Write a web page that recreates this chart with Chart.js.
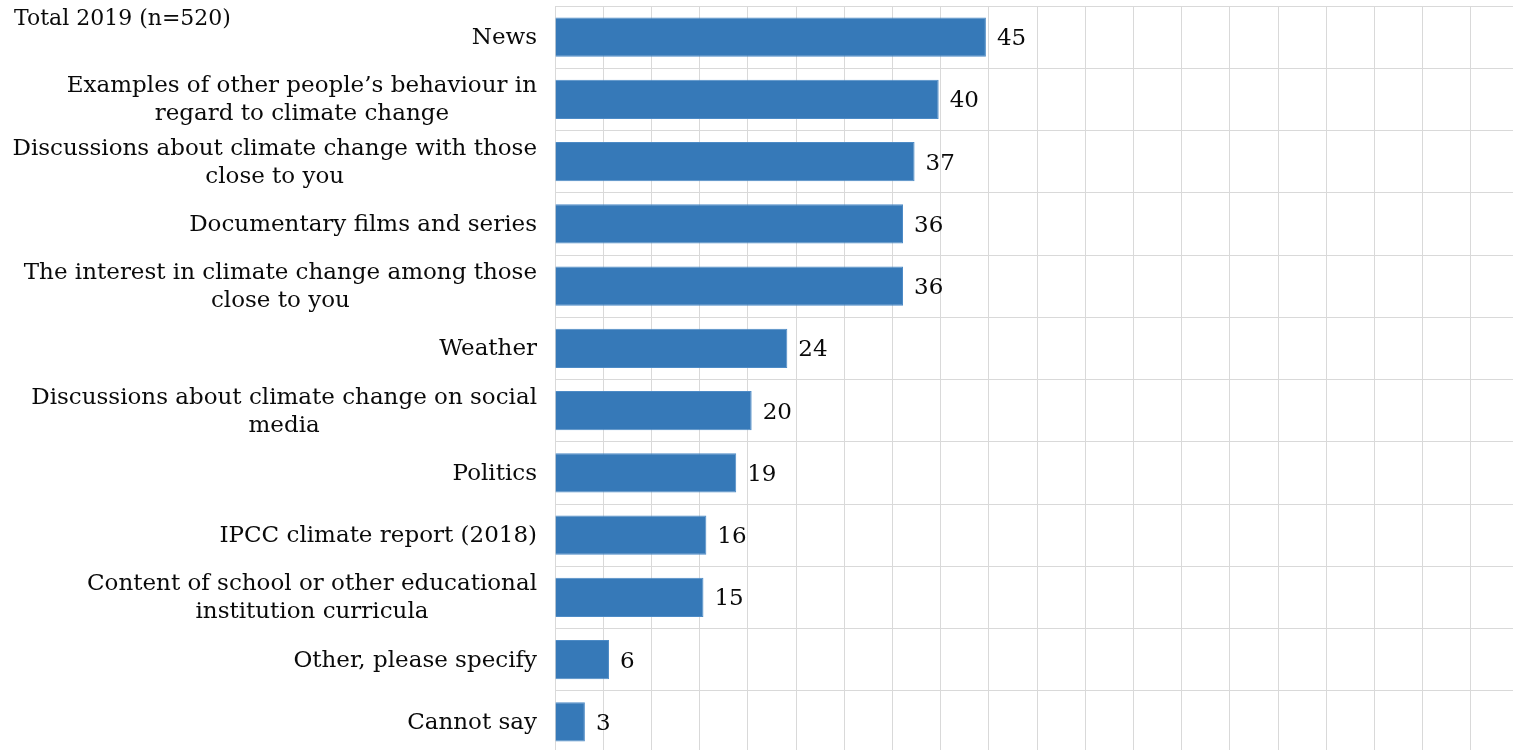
<!DOCTYPE html>
<html>
<head>
<meta charset="utf-8">
<script src="https://cdn.jsdelivr.net/npm/chart.js@4/dist/chart.umd.min.js"></script>
<style>
  html, body { margin: 0; padding: 0; background: #fff; overflow: hidden; }
  #wrap { position: absolute; left: 0; top: 0; width: 1520px; height: 753px; }
</style>
</head>
<body>
<div id="wrap"><canvas id="c" width="1520" height="753"></canvas></div>
<script>
const chartTitle = "Total 2019 (n=520)";
const categories = [
  ["News"],
  ["Examples of other people\u2019s behaviour in", "regard to climate change"],
  ["Discussions about climate change with those", "close to you"],
  ["Documentary films and series"],
  ["The interest in climate change among those", "close to you"],
  ["Weather"],
  ["Discussions about climate change on social", "media"],
  ["Politics"],
  ["IPCC climate report (2018)"],
  ["Content of school or other educational", "institution curricula"],
  ["Other, please specify"],
  ["Cannot say"]
];
const values = [44.7, 39.8, 37.3, 36.1, 36.1, 24.1, 20.4, 18.8, 15.7, 15.4, 5.6, 3.1];
const valueLabels = ["45", "40", "37", "36", "36", "24", "20", "19", "16", "15", "6", "3"];
const xMin = 0, xMax = 100, xStep = 5;

const FONT = "DejaVu Serif";
const GRID = "#d9d9d9";

const labelPlugin = {
  id: "customText",
  afterDraw(chart) {
    const ctx = chart.ctx;
    const yScale = chart.scales.y;
    ctx.save();
    ctx.fillStyle = "#0a0a0a";
    // category labels: block right-aligned, lines centred within block
    ctx.font = "23px '" + FONT + "'";
    ctx.textBaseline = "middle";
    ctx.textAlign = "center";
    const lh = 28;
    const right = 537;
    categories.forEach((lines, i) => {
      const y = yScale.getPixelForValue(i) + 1;
      const w = Math.max(...lines.map(l => ctx.measureText(l).width));
      const cx = right - w / 2;
      const y0 = y - (lines.length - 1) * lh / 2;
      lines.forEach((l, j) => ctx.fillText(l, cx, y0 + j * lh));
    });
    // value labels
    ctx.textAlign = "left";
    const meta = chart.getDatasetMeta(0);
    meta.data.forEach((bar, i) => {
      ctx.fillText(valueLabels[i], bar.x + 11, bar.y + 2);
    });
    // title
    ctx.font = "22px '" + FONT + "'";
    ctx.fillText(chartTitle, 14, 19);
    ctx.restore();
  }
};

new Chart(document.getElementById("c"), {
  type: "bar",
  data: {
    labels: categories,
    datasets: [{
      data: values,
      backgroundColor: "#3679b8",
      borderColor: "#4d8bc6",
      borderWidth: 1,
      barPercentage: 0.63,
      categoryPercentage: 1.0
    }]
  },
  options: {
    indexAxis: "y",
    responsive: false,
    animation: false,
    layout: { padding: { top: 6, right: 1, bottom: 0, left: 0 } },
    plugins: { legend: { display: false }, tooltip: { enabled: false }, title: { display: false } },
    scales: {
      x: {
        min: xMin, max: xMax,
        ticks: { display: false, stepSize: xStep },
        grid: { color: GRID, lineWidth: 1, drawTicks: false },
        border: { display: false }
      },
      y: {
        ticks: { display: false },
        grid: { color: GRID, lineWidth: 1, drawTicks: false, offset: true },
        border: { display: true, color: GRID },
        afterFit(scale) { scale.width = 555; }
      }
    }
  },
  plugins: [labelPlugin]
});
</script>
</body>
</html>
